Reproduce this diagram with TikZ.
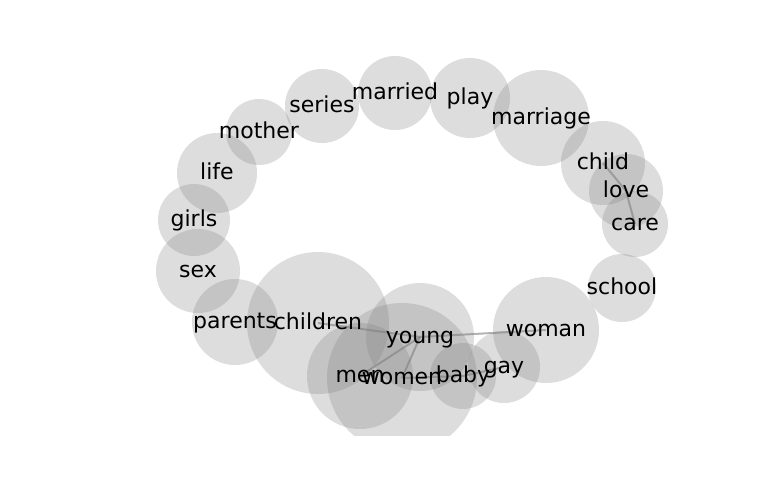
\documentclass[tikz,border=0pt]{standalone}
\usepackage{fontspec}
\setmainfont{DejaVu Sans}
\begin{document}
\begin{tikzpicture}[x=0.75pt,y=-0.75pt,
  bubble/.style={fill=gray,fill opacity=0.27},
  link/.style={draw=gray,draw opacity=0.6,line width=1.5pt},
  word/.style={inner sep=0pt,text height=13pt,text depth=3.5pt,font=\fontsize{16.5pt}{18pt}\selectfont,text=black}]
\useasboundingbox (0,0) rectangle (768,500);
% centres
\coordinate (married) at (395,93);
\coordinate (play) at (470,98);
\coordinate (marriage) at (541,118);
\coordinate (series) at (322,106);
\coordinate (mother) at (259,132);
\coordinate (life) at (217,173);
\coordinate (girls) at (194,220);
\coordinate (sex) at (198,271);
\coordinate (parents) at (235,322);
\coordinate (children) at (318,323);
\coordinate (young) at (420,337);
\coordinate (men) at (360,376);
\coordinate (women) at (402,378);
\coordinate (baby) at (463,376);
\coordinate (gay) at (504,367);
\coordinate (woman) at (546,330);
\coordinate (school) at (622,288);
\coordinate (child) at (603,163);
\coordinate (love) at (626,191);
\coordinate (care) at (635,224);
\begin{scope}
\clip (0,0) rectangle (768,435);
% links
\draw[link] (children) -- (young);
\draw[link] (young) -- (woman);
\draw[link] (young) -- (men);
\draw[link] (young) -- (women);
\draw[link] (women) -- (baby);
\draw[link] (baby) -- (gay);
\draw[link] (child) -- (love);
\draw[link] (love) -- (care);
% bubbles
\fill[bubble] (married) circle[radius=37];
\fill[bubble] (play) circle[radius=40];
\fill[bubble] (marriage) circle[radius=48];
\fill[bubble] (series) circle[radius=37];
\fill[bubble] (mother) circle[radius=33];
\fill[bubble] (life) circle[radius=40];
\fill[bubble] (girls) circle[radius=36];
\fill[bubble] (sex) circle[radius=42];
\fill[bubble] (parents) circle[radius=43];
\fill[bubble] (children) circle[radius=71];
\fill[bubble] (young) circle[radius=54];
\fill[bubble] (men) circle[radius=53];
\fill[bubble] (women) circle[radius=75];
\fill[bubble] (baby) circle[radius=33];
\fill[bubble] (gay) circle[radius=36];
\fill[bubble] (woman) circle[radius=53];
\fill[bubble] (school) circle[radius=34];
\fill[bubble] (child) circle[radius=42];
\fill[bubble] (love) circle[radius=37];
\fill[bubble] (care) circle[radius=33];
\end{scope}
% labels
\node[word] (l-married) at (married) {married};
\node[word] (l-play) at (play) {play};
\node[word] (l-marriage) at (marriage) {marriage};
\node[word] (l-series) at (series) {series};
\node[word] (l-mother) at (mother) {mother};
\node[word] (l-life) at (life) {life};
\node[word] (l-girls) at (girls) {girls};
\node[word] (l-sex) at (sex) {sex};
\node[word] (l-parents) at (parents) {parents};
\node[word] (l-children) at (children) {children};
\node[word] (l-young) at (young) {young};
\node[word] (l-men) at (men) {men};
\node[word] (l-women) at (women) {women};
\node[word] (l-baby) at (baby) {baby};
\node[word] (l-gay) at (gay) {gay};
\node[word] (l-woman) at (woman) {woman};
\node[word] (l-school) at (school) {school};
\node[word] (l-child) at (child) {child};
\node[word] (l-love) at (love) {love};
\node[word] (l-care) at (care) {care};
\end{tikzpicture}
\end{document}
